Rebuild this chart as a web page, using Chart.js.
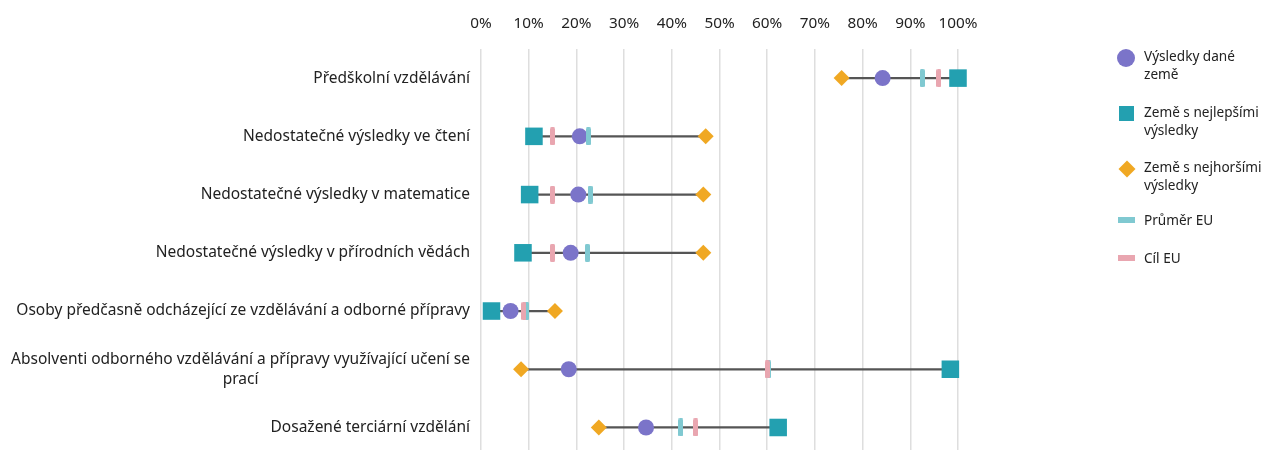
<!DOCTYPE html>
<html>
<head>
<meta charset="utf-8">
<script src="https://cdn.jsdelivr.net/npm/chart.js@4/dist/chart.umd.min.js"></script>
<style>
	body { margin: 0; overflow: hidden; background: #fff; font-family: "Noto Sans", sans-serif; }
	#wrap { position: relative; width: 1262px; height: 450px; overflow: hidden; }
	#chart { position: absolute; left: 0; top: 0; }
	#legend { position: absolute; left: 1116px; top: 0; font-size: 13.6px; color: #222; line-height: 18px; }
	.item { position: absolute; left: 0; width: 150px; }
	.item .mark { position: absolute; }
	.item .txt { position: absolute; left: 28px; white-space: nowrap; }
</style>
</head>
<body>
<div id="wrap">
	<canvas id="chart" width="1262" height="469"></canvas>
	<div id="legend"></div>
</div>
<script>
const categories = [
	["Předškolní vzdělávání"],
	["Nedostatečné výsledky ve čtení"],
	["Nedostatečné výsledky v matematice"],
	["Nedostatečné výsledky v přírodních vědách"],
	["Osoby předčasně odcházející ze vzdělávání a odborné přípravy"],
	["Absolventi odborného vzdělávání a přípravy využívající učení se", "prací"],
	["Dosažené terciární vzdělání"]
];

const countryValues = [84.2, 20.7, 20.4, 18.8, 6.2, 18.4, 34.6];
const bestValues = [100, 11.1, 10.2, 8.8, 2.2, 98.4, 62.3];
const worstValues = [75.6, 47.1, 46.6, 46.6, 15.5, 8.4, 24.7];
const euAverage = [92.5, 22.5, 22.9, 22.3, 9.6, 60.3, 41.9];
const euTarget = [96, 15, 15, 15, 9, 60, 45];

const xTicks = [0, 10, 20, 30, 40, 50, 60, 70, 80, 90, 100];

const legendNames = ["Výsledky dané země", "Země s nejlepšími výsledky", "Země s nejhoršími výsledky", "Průměr EU", "Cíl EU"];

const purple = "#7b74c9";
const teal = "#23a0b0";
const orange = "#f0a823";
const cyan = "#80c9d1";
const pink = "#e9a6b0";

function tickMark(color, w, h)
{
	const c = document.createElement("canvas");
	c.width = w;
	c.height = h;
	const ctx = c.getContext("2d");
	ctx.fillStyle = color;
	ctx.beginPath();
	ctx.roundRect(0, 0, w, h, 1.5);
	ctx.fill();
	return c;
}

const ranges = categories.map((_, i) =>
{
	const vals = [countryValues[i], bestValues[i], worstValues[i], euAverage[i], euTarget[i]];
	return [Math.min(...vals), Math.max(...vals)];
});

function pointSet(label, data, color, style, radius, order)
{
	return {
		type: "line",
		label,
		data,
		showLine: false,
		clip: false,
		pointStyle: style,
		pointRadius: radius,
		pointHoverRadius: radius,
		pointBackgroundColor: color,
		pointBorderColor: color,
		pointBorderWidth: 0,
		order
	};
}

const yLabelsPlugin =
{
	id: "yLabels",
	afterDraw(chart)
	{
		const ctx = chart.ctx;
		const y = chart.scales.y;
		const right = chart.chartArea.left - 11;
		const lineH = 20;

		ctx.save();
		ctx.font = "15.5px 'Noto Sans'";
		ctx.fillStyle = "#222";
		ctx.textBaseline = "middle";
		ctx.textAlign = "center";

		categories.forEach((lines, i) =>
		{
			const cy = y.getPixelForTick(i);
			const blockW = Math.max(...lines.map(l => ctx.measureText(l).width));
			const cx = right - blockW / 2;
			const top = cy - (lines.length - 1) * lineH / 2;

			lines.forEach((l, j) => ctx.fillText(l, cx, top + j * lineH));
		});

		ctx.restore();
	}
};

new Chart(document.getElementById("chart"),
{
	type: "bar",
	data:
	{
		labels: categories.map(c => c.join(" ")),
		datasets:
		[
			{ label: "range", data: ranges, backgroundColor: "#555", barThickness: 1.6, order: 10 },
			pointSet(legendNames[1], bestValues, teal, "rect", 12.4, 6),
			pointSet(legendNames[0], countryValues, purple, "circle", 8, 5),
			pointSet(legendNames[2], worstValues, orange, "rectRot", 8, 4),
			pointSet(legendNames[3], euAverage, cyan, tickMark(cyan, 5, 18), 4, 3),
			pointSet(legendNames[4], euTarget, pink, tickMark(pink, 5, 18), 4, 2)
		]
	},
	options:
	{
		indexAxis: "y",
		responsive: false,
		animation: false,
		layout: { padding: { left: 0, right: 304, top: 0, bottom: 0 } },
		plugins: { legend: { display: false }, tooltip: { enabled: false } },
		scales:
		{
			x:
			{
				position: "top",
				min: 0,
				max: 100,
				afterBuildTicks: scale => { scale.ticks = xTicks.map(v => ({ value: v })); },
				afterFit: scale => { scale.height = 49; },
				ticks: { callback: v => v + "%", color: "#222", font: { family: "Noto Sans", size: 15.3 }, padding: 16, maxRotation: 0 },
				grid: { color: "#dedede", lineWidth: 1.5, drawTicks: false },
				border: { display: false }
			},
			y:
			{
				afterFit: scale => { scale.width = 481; },
				ticks: { display: false },
				grid: { display: false, drawTicks: false },
				border: { display: false }
			}
		}
	},
	plugins: [yLabelsPlugin]
});

// legend built as html
const legendEl = document.getElementById("legend");
const legendRows =
[
	{ name: ["Výsledky dané", "země"], top: 47, mark: `left:1px;top:2px;width:18px;height:18px;border-radius:50%;background:${purple}` },
	{ name: ["Země s nejlepšími", "výsledky"], top: 103, mark: `left:3px;top:3px;width:15px;height:15px;background:${teal}` },
	{ name: ["Země s nejhoršími", "výsledky"], top: 158, mark: `left:5px;top:5px;width:12px;height:12px;transform:rotate(45deg);background:${orange}` },
	{ name: ["Průměr EU"], top: 211, mark: `left:2px;top:6px;width:17px;height:6px;background:${cyan}` },
	{ name: ["Cíl EU"], top: 249, mark: `left:2px;top:6px;width:17px;height:6px;background:${pink}` }
];

for(const row of legendRows)
{
	const item = document.createElement("div");
	item.className = "item";
	item.style.top = row.top + "px";
	item.innerHTML = `<div class="mark" style="${row.mark}"></div><div class="txt">${row.name.join("<br>")}</div>`;
	legendEl.appendChild(item);
}
</script>
</body>
</html>
